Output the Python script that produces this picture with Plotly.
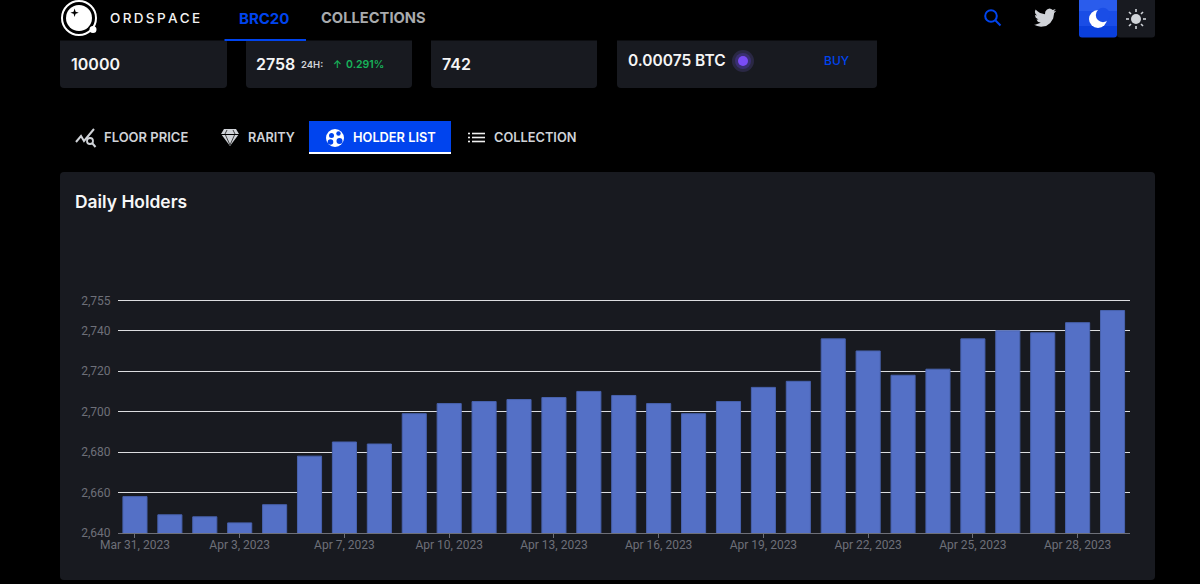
import plotly.graph_objects as go

# Daily holder counts
days = ["Mar 31, 2023", "Apr 1, 2023", "Apr 2, 2023", "Apr 3, 2023", "Apr 5, 2023", "Apr 6, 2023",
        "Apr 7, 2023", "Apr 8, 2023", "Apr 9, 2023", "Apr 10, 2023", "Apr 11, 2023", "Apr 12, 2023",
        "Apr 13, 2023", "Apr 14, 2023", "Apr 15, 2023", "Apr 16, 2023", "Apr 17, 2023", "Apr 18, 2023",
        "Apr 19, 2023", "Apr 20, 2023", "Apr 21, 2023", "Apr 22, 2023", "Apr 23, 2023", "Apr 24, 2023",
        "Apr 25, 2023", "Apr 26, 2023", "Apr 27, 2023", "Apr 28, 2023", "Apr 29, 2023"]
holders = [2658, 2649, 2648, 2645, 2654, 2678, 2685, 2684, 2699, 2704, 2705, 2706, 2707, 2710, 2708,
           2704, 2699, 2705, 2712, 2715, 2736, 2730, 2718, 2721, 2736, 2740, 2739, 2744, 2750]
date_ticks = ["Mar 31, 2023", "Apr 3, 2023", "Apr 7, 2023", "Apr 10, 2023", "Apr 13, 2023",
              "Apr 16, 2023", "Apr 19, 2023", "Apr 22, 2023", "Apr 25, 2023", "Apr 28, 2023"]
holder_ticks = [2640, 2660, 2680, 2700, 2720, 2740, 2755]

W, H = 1200, 584
CARD = "#181a20"
BLUE = "#0044ee"
LIGHT = "#d0d3d8"


def px(x):
    return x / W


def py(y):
    return 1 - y / H


def poly(points, close=True):
    d = "M" + " L".join(f"{px(x):.5f},{py(y):.5f}" for x, y in points)
    return d + (" Z" if close else "")


def rounded(x0, y0, x1, y1, rt=0, rb=0):
    pts = (
        f"M{px(x0 + rt)},{py(y0)} L{px(x1 - rt)},{py(y0)} "
        f"Q{px(x1)},{py(y0)} {px(x1)},{py(y0 + rt)} L{px(x1)},{py(y1 - rb)} "
        f"Q{px(x1)},{py(y1)} {px(x1 - rb)},{py(y1)} L{px(x0 + rb)},{py(y1)} "
        f"Q{px(x0)},{py(y1)} {px(x0)},{py(y1 - rb)} L{px(x0)},{py(y0 + rt)} "
        f"Q{px(x0)},{py(y0)} {px(x0 + rt)},{py(y0)} Z"
    )
    return pts


shapes = []
texts = []


def fill(path, color):
    shapes.append(dict(type="path", xref="paper", yref="paper", path=path, fillcolor=color,
                       line=dict(width=0), layer="below"))


def stroke(path, color, width=1.5):
    shapes.append(dict(type="path", xref="paper", yref="paper", path=path, line=dict(color=color, width=width),
                       layer="below"))


def disc(cx, cy, r, color, line=None, lw=0):
    shapes.append(dict(type="circle", xref="paper", yref="paper", x0=px(cx - r), x1=px(cx + r),
                       y0=py(cy + r), y1=py(cy - r), fillcolor=color,
                       line=dict(color=line or color, width=lw), layer="below"))


def label(x, y, text, size, color, weight=400, family="Inter"):
    texts.append(dict(xref="paper", yref="paper", x=px(x), y=py(y), text=text, showarrow=False,
                      xanchor="left", yanchor="middle", borderpad=0, borderwidth=0,
                      font=dict(family=family, size=size, color=color, weight=weight)))


# Stat cards, their tops hidden behind the header bar
for x0, x1 in [(60, 227), (246, 412), (431, 597), (617, 877)]:
    fill(rounded(x0, 30, x1, 88, 0, 4), CARD)
fill(poly([(0, 0), (W, 0), (W, 40.5), (0, 40.5)]), "#000000")

# Header bar
disc(79, 18, 17, "rgba(0,0,0,0)", "#ffffff", 2)
disc(79, 18, 13, "#ffffff")
fill(poly([(74.6, 8.5), (75.6, 11.7), (78.8, 12.7), (75.6, 13.7), (74.6, 16.9), (73.6, 13.7), (70.4, 12.7), (73.6, 11.7)]), "#000000")
disc(93, 29.5, 3.5, "#ffffff")
label(110, 18.5, "O\u2009R\u2009D\u2009S\u2009P\u2009A\u2009C\u2009E", 13.5, "#f2f2f2", 500)
label(239, 18.5, "BRC20", 15, BLUE, 700)
label(321, 18.5, "COLLECTIONS", 14.7, "#a9abae", 700)
fill(poly([(224.5, 39), (306, 39), (306, 41), (224.5, 41)]), BLUE)

# Search, bird and theme toggle
disc(991, 16, 5.8, "rgba(0,0,0,0)", BLUE, 2)
stroke(poly([(995.5, 20.5), (1000.5, 25.5)], close=False), BLUE, 2)
bird = [(23.95, 4.57), (21.13, 5.35), (23.29, 2.62), (20.16, 3.8), (18.5, 2.6), (16.57, 2.2), (14, 3.1),
        (12.2, 5.5), (11.78, 8.29), (6.5, 7.0), (3.8, 5.2), (1.64, 3.16), (0.97, 5.64), (1.5, 7.9),
        (3.16, 9.73), (0.93, 9.12), (1.9, 12.2), (4.88, 14), (2.67, 14.09), (4.2, 16.3), (7.27, 17.5),
        (1.17, 19.6), (0, 19.54), (3.5, 21), (7.56, 21.75), (13, 21), (17.5, 17.8), (20.6, 13),
        (21.55, 7.76), (21.54, 7.13)]
fill(poly([(1034 + 0.93 * x, 6.5 + 0.93 * y) for x, y in bird]), LIGHT)

fill(rounded(1117, 0, 1155, 37.5, 0, 3), CARD)
fill(rounded(1079, 0, 1117, 37.5, 0, 3), "#0a3fdc")
fill(poly([(1079, 0), (1117, 0), (1117, 11), (1079, 11)]), "#2a5cec")
fill(poly([(1079, 11), (1117, 11), (1117, 26), (1079, 26)]), "#1a4de6")
disc(1098, 19, 9, "#ffffff")
disc(1103, 15, 7.2, "#1a4de6")
disc(1136, 19, 5, LIGHT)
for x0, y0, x1, y1 in [(1136, 9, 1136, 12), (1136, 26, 1136, 29), (1126, 19, 1129, 19), (1143, 19, 1146, 19),
                       (1129, 12, 1131, 14), (1141, 24, 1143, 26), (1129, 26, 1131, 24), (1141, 14, 1143, 12)]:
    stroke(poly([(x0, y0), (x1, y1)], close=False), LIGHT, 1.6)

# Card contents
label(71, 64.5, "10000", 16, "#f5f5f5", 600)
label(256, 64.5, "2758", 16, "#f5f5f5", 600)
label(301, 64.5, "24H:", 9.5, LIGHT, 600)
label(333, 64.5, "↑", 10, "#17b45a", 600)
label(345.5, 64.5, "0.291%", 10.5, "#17b45a", 600)
label(442, 64.5, "742", 16, "#f5f5f5", 600)
label(627.5, 60.5, "0.00075 BTC", 15.5, "#f5f5f5", 600)
disc(743, 61, 11, "#2a2844")
disc(743, 61, 8, "#3a2f72")
disc(743, 61, 5, "#7a4cf5")
label(824, 60.5, "BUY", 12, BLUE, 500)

# Tab strip
fill(poly([(309, 121), (451, 121), (451, 152), (309, 152)]), BLUE)
fill(poly([(309, 152), (451, 152), (451, 154), (309, 154)]), "#ffffff")
label(104, 137, "FLOOR PRICE", 13, LIGHT, 600)
label(248, 137, "RARITY", 12.7, LIGHT, 600)
label(353, 137, "HOLDER LIST", 12.8, "#ffffff", 600)
label(494, 137, "COLLECTION", 12.8, LIGHT, 600)

stroke(poly([(76, 142), (81, 136), (84, 141), (94, 129)], close=False), LIGHT, 2)
disc(90, 141, 3, "#000000", LIGHT, 1.8)
stroke(poly([(92.5, 143.5), (95.5, 147)], close=False), LIGHT, 2)

fill(poly([(224, 129), (236, 129), (239, 134), (230, 146), (221, 134)]), LIGHT)
stroke(poly([(221, 134.5), (239, 134.5)], close=False), "#000000", 1)
stroke(poly([(227, 130), (225, 134), (230, 145), (235, 134), (233, 130)], close=False), "#000000", 0.7)

disc(335, 138, 9, "#ffffff")
disc(331.5, 135.5, 2.5, BLUE)
disc(338.5, 133.5, 2.2, BLUE)
disc(330.5, 142, 2.8, BLUE)
disc(339.5, 141, 3.0, BLUE)

for y in (133.5, 137.5, 141.5):
    stroke(poly([(468, y), (470, y)], close=False), "#f0f0f0", 1.6)
    stroke(poly([(472, y), (485, y)], close=False), "#f0f0f0", 1.6)

# Chart panel
fill(rounded(60, 172, 1155, 580, 4, 4), CARD)
label(75, 202, "Daily Holders", 17.4, "#f7f7f7", 600)

fig = go.Figure(
    go.Bar(
        x=days,
        y=holders,
        marker=dict(color="#5470c6", line=dict(color="#4862ad", width=1)),
        hovertemplate="%{x}<br>%{y:,}<extra></extra>",
    )
)

fig.update_layout(
    width=W,
    height=H,
    margin=dict(l=0, r=0, t=0, b=0, autoexpand=False),
    paper_bgcolor="#000000",
    plot_bgcolor="rgba(0,0,0,0)",
    bargap=0.31,
    showlegend=False,
    shapes=shapes,
    annotations=texts,
    font=dict(family="Roboto", color="#6e7079", size=12),
    xaxis=dict(
        domain=[px(117.5), px(1130)],
        type="category",
        automargin=False,
        categoryorder="array",
        categoryarray=days,
        range=[-0.5, len(days) - 0.5],
        tickmode="array",
        tickvals=date_ticks,
        ticktext=date_ticks,
        ticks="outside",
        ticklen=4,
        tickwidth=1,
        tickcolor="#6e7079",
        ticklabelstandoff=-3,
        showline=True,
        linecolor="#6e7079",
        linewidth=1,
        showgrid=False,
        tickangle=0,
        tickfont=dict(family="Roboto", size=12, color="#6e7079"),
    ),
    yaxis=dict(
        domain=[py(533), py(298.4)],
        range=[2640, 2756],
        automargin=False,
        tickmode="array",
        tickvals=holder_ticks,
        tickformat=",d",
        ticklabelstandoff=6,
        showgrid=True,
        gridcolor="#dcdde0",
        gridwidth=1,
        showline=False,
        zeroline=False,
        ticks="",
        tickfont=dict(family="Roboto", size=12, color="#6e7079"),
    ),
)

fig.write_html("out.html", config=dict(displayModeBar=False))
